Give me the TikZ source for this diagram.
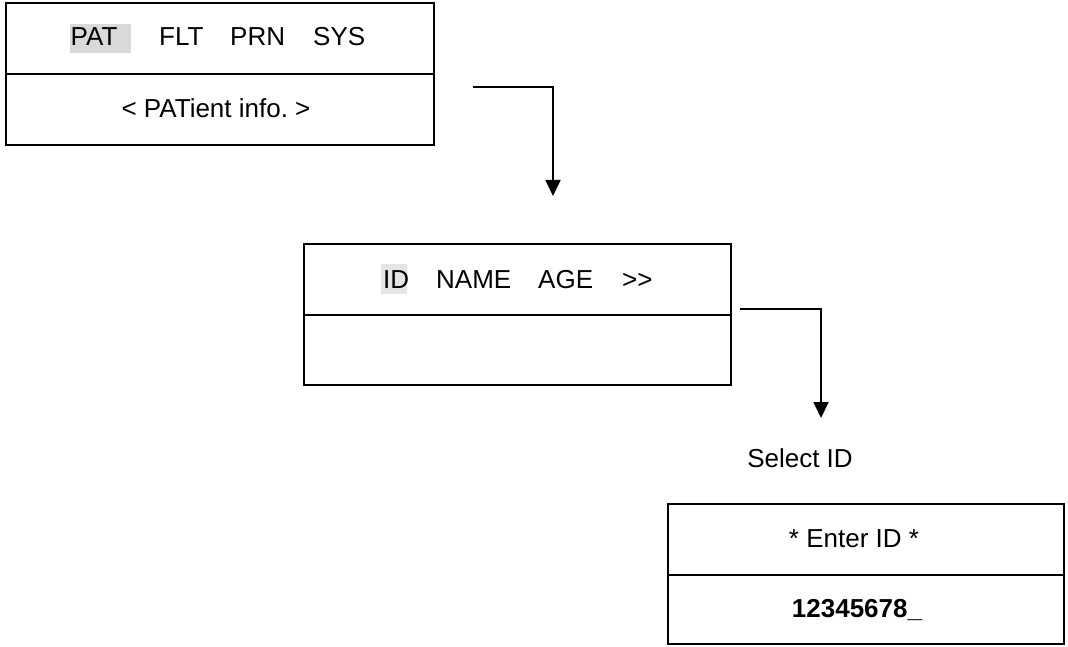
\documentclass[tikz,border=0pt]{standalone}
\usepackage{fontspec}
\setmainfont{Liberation Sans}
\usetikzlibrary{arrows.meta}
\frenchspacing
\tikzset{
  boxpart/.style={draw=black, line width=2.4pt, anchor=north west, inner sep=0pt},
  txt/.style={anchor=base west, inner sep=0pt, font=\fontsize{26}{30}\selectfont},
  txtc/.style={anchor=base, inner sep=0pt, font=\fontsize{26}{30}\selectfont},
  hlA/.style={fill=black!15, draw=none, anchor=north west, inner sep=0pt},
  hlB/.style={fill=black!10, draw=none, anchor=north west, inner sep=0pt},
  conn/.style={draw=black, line width=1.8pt, -{Triangle[width=15pt,length=16pt]}},
}
\begin{document}
\begin{tikzpicture}[x=1pt,y=-1pt]
\useasboundingbox (0,0) rectangle (1068,647);
% box 1
\node[boxpart, minimum width=428pt, minimum height=71pt] (b1t) at (5,2) {};
\node[boxpart, minimum width=428pt, minimum height=71pt] (b1b) at (5,73) {};
\node[hlA, minimum width=61pt, minimum height=29pt] (pathl) at (70,24) {};
\node[txt] (pat) at (70.5,46) {PAT};
\node[txt] (flt) at (159,46) {FLT};
\node[txt] (prn) at (230,46) {PRN};
\node[txt] (sys) at (313,46) {SYS};
\node[txtc] (pinfo) at (216,118) {< PATient info. >};
% box 2
\node[boxpart, minimum width=427pt, minimum height=71pt] (b2t) at (303,243) {};
\node[boxpart, minimum width=427pt, minimum height=70pt] (b2b) at (303,314) {};
\node[hlB, minimum width=26pt, minimum height=30pt] (idhl) at (381,264) {};
\node[txt] (id) at (383,288) {ID};
\node[txt] (name) at (436,288) {NAME};
\node[txt] (age) at (538,288) {AGE};
\node[txt] (more) at (622,288) {>\kern0pt>};
% box 3
\node[txtc] (sel) at (800,467) {Select ID};
\node[boxpart, minimum width=396pt, minimum height=71pt] (b3t) at (667,503) {};
\node[boxpart, minimum width=396pt, minimum height=69pt] (b3b) at (667,574) {};
\node[txtc] (enter) at (854,547) {* Enter ID *};
\node[txtc, font=\fontsize{26}{30}\selectfont\bfseries] (num) at (857,617) {12345678\_};
% connectors
\coordinate (c1s) at (473,87);
\coordinate (c1e) at (553,196);
\coordinate (c2s) at (740,309);
\coordinate (c2e) at (821,418);
\draw[conn] (c1s) -| (c1e);
\draw[conn] (c2s) -| (c2e);
\end{tikzpicture}
\end{document}
